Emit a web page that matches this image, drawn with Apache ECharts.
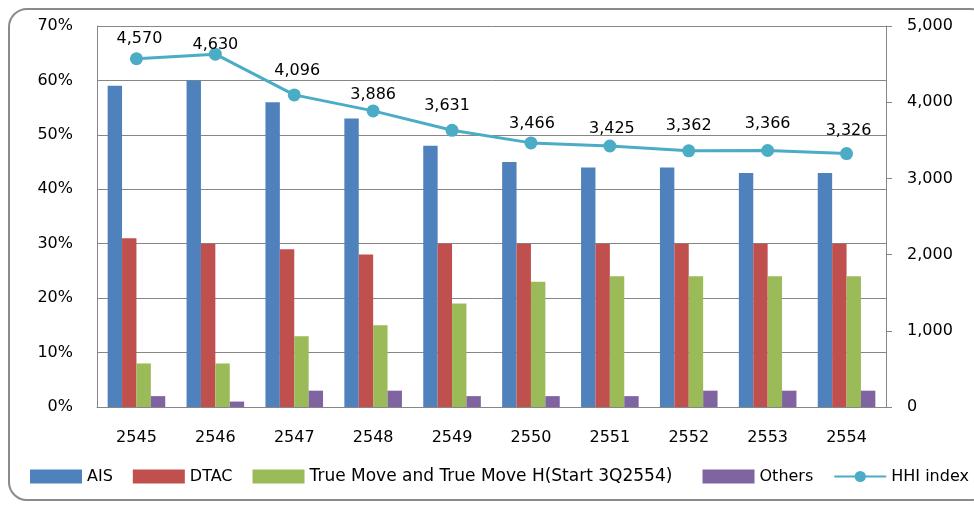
<!DOCTYPE html>
<html>
<head>
<meta charset="utf-8">
<title>HHI</title>
<script src="https://cdn.jsdelivr.net/npm/echarts/dist/echarts.min.js"></script>
<style>
  html, body { margin: 0; padding: 0; background: #fff; }
  #main { width: 974px; height: 506px; }
</style>
</head>
<body>
<div id="main"></div>
<script>
  // ปี พ.ศ.
  var years = ['2545', '2546', '2547', '2548', '2549', '2550', '2551', '2552', '2553', '2554'];
  // market share (%)
  var ais = [59, 60, 56, 53, 48, 45, 44, 44, 43, 43];
  var dtac = [31, 30, 29, 28, 30, 30, 30, 30, 30, 30];
  var trueMove = [8, 8, 13, 15, 19, 23, 24, 24, 24, 24];
  var others = [2, 1, 3, 3, 2, 2, 2, 3, 3, 3];
  // HHI index
  var hhi = [4570, 4630, 4096, 3886, 3631, 3466, 3425, 3362, 3366, 3326];

  // เลื่อนป้ายตัวเลขขึ้นลงเล็กน้อยให้เหมือนต้นฉบับ
  var labelShift = [[3, 1], [0, 11], [3, -4], [0, 4], [-5, -4], [1, 1], [2, 3], [0, -4], [0, -6], [2, -2]];

  var font = 'DejaVu Sans';
  var axisGray = '#868686';
  var trueName = 'True Move and True Move H(Start 3Q2554)';

  function comma(v) {
    return Number(v).toLocaleString('en-US');
  }

  function barSeries(name, data, color) {
    return {
      name: name,
      type: 'bar',
      data: data,
      barGap: '0%',
      barCategoryGap: '27%',
      itemStyle: { color: color },
      yAxisIndex: 0
    };
  }

  var hhiData = hhi.map(function (v, i) {
    return { value: v, label: { offset: labelShift[i] } };
  });

  var chart = echarts.init(document.getElementById('main'));
  chart.setOption({
    animation: false,
    backgroundColor: '#fff',
    textStyle: { fontFamily: font },
    graphic: [{
      type: 'rect',
      shape: { x: 9, y: 9, width: 980, height: 491, r: 18 },
      style: { fill: 'none', stroke: '#8a8a8a', lineWidth: 2 },
      z: -1
    }],
    grid: { left: 97, right: 88, top: 26, bottom: 99 },
    legend: {
      left: 30,
      top: 468,
      padding: 0,
      itemWidth: 52,
      itemHeight: 14,
      itemGap: 20,
      formatter: function (name) {
        return name === trueName ? '{w|' + name + '}{s|\u00a0\u00a0}' : name;
      },
      textStyle: {
        fontFamily: font, fontSize: 16, color: '#000',
        rich: {
          w: { fontFamily: font, fontSize: 17, color: '#000' },
          s: { fontFamily: font, fontSize: 16, color: '#000' }
        }
      },
      data: [
        { name: 'AIS', icon: 'rect' },
        { name: 'DTAC', icon: 'rect' },
        { name: trueName, icon: 'rect' },
        { name: 'Others', icon: 'rect' },
        { name: 'HHI index' }
      ]
    },
    xAxis: {
      type: 'category',
      data: years,
      axisLine: { lineStyle: { color: axisGray } },
      axisTick: { length: 8, lineStyle: { color: axisGray } },
      axisLabel: { margin: 23, fontSize: 16, color: '#000' }
    },
    yAxis: [{
      type: 'value',
      min: 0,
      max: 70,
      interval: 10,
      axisLine: { show: true, lineStyle: { color: axisGray } },
      axisTick: { show: false },
      axisLabel: { margin: 24, fontSize: 16, color: '#000', formatter: '{value}%' },
      splitLine: { lineStyle: { color: axisGray } }
    }, {
      type: 'value',
      min: 0,
      max: 5000,
      interval: 1000,
      axisLine: { show: true, lineStyle: { color: axisGray } },
      axisTick: { show: true, length: 6, lineStyle: { color: axisGray } },
      axisLabel: { margin: 21, fontSize: 16, color: '#000', formatter: comma },
      splitLine: { show: false }
    }],
    series: [
      barSeries('AIS', ais, '#4F81BD'),
      barSeries('DTAC', dtac, '#C0504D'),
      barSeries(trueName, trueMove, '#9BBB59'),
      barSeries('Others', others, '#8064A2'),
      {
        name: 'HHI index',
        type: 'line',
        yAxisIndex: 1,
        data: hhiData,
        symbol: 'circle',
        symbolSize: 13,
        lineStyle: { color: '#4BACC6', width: 3 },
        itemStyle: { color: '#4BACC6' },
        label: {
          show: true,
          position: 'top',
          distance: 6,
          fontSize: 16,
          color: '#000',
          formatter: function (p) { return comma(p.value); }
        },
        z: 5
      }
    ]
  });
</script>
</body>
</html>
